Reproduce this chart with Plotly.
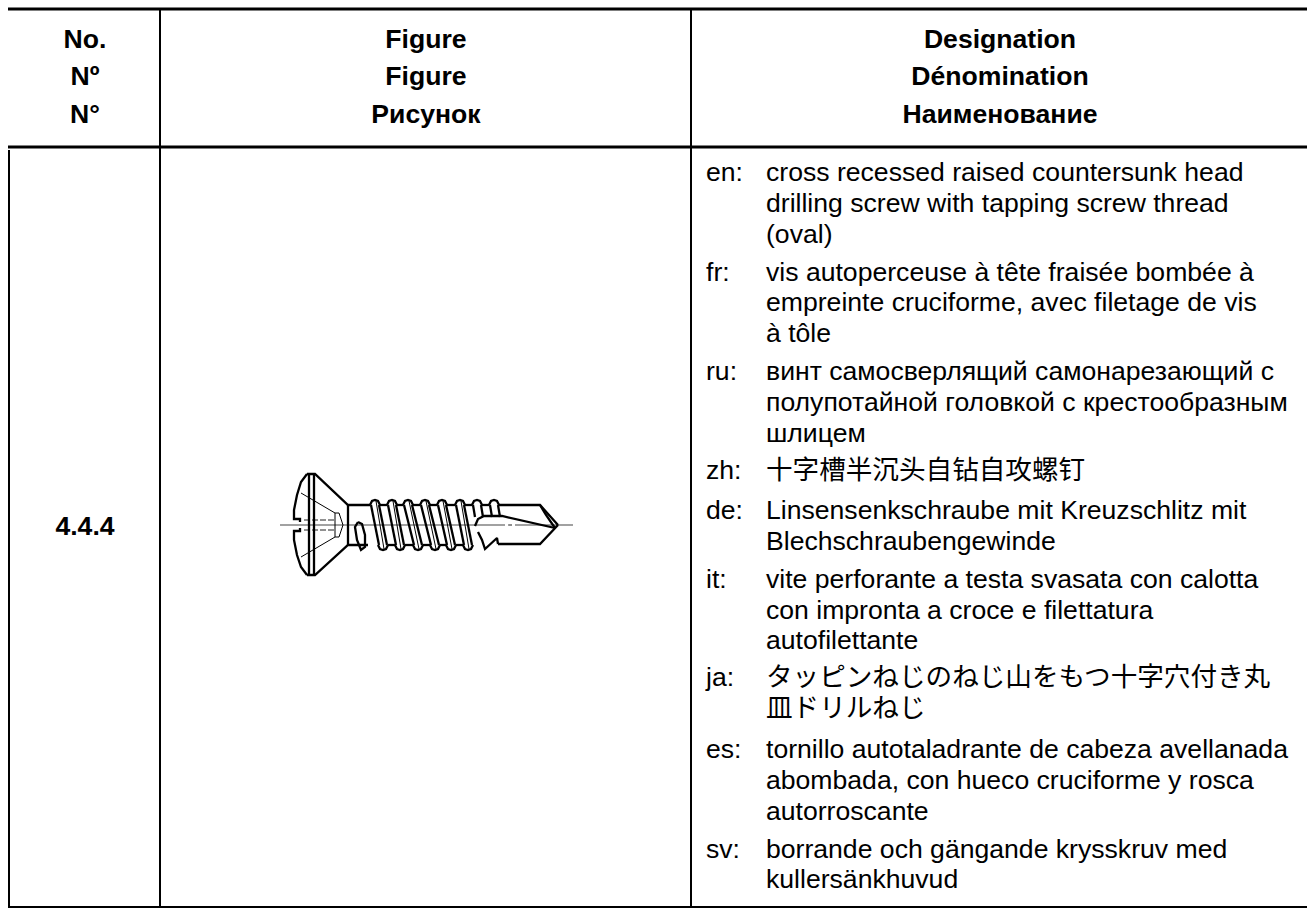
import plotly.graph_objects as go

W, H = 1307, 908
FONT = "Liberation Sans, Arial, Noto Sans CJK SC"
FONT_JA = "Liberation Sans, Arial, Noto Sans CJK JP"
FS = 26.6

# table
rules_x = [[9, 150, 906], [160, 9, 906], [691, 9, 906]]
rules_y = [[9, 8, 1307, 3], [147, 8, 1307, 3], [907, 8, 1307, 2]]

headers = [
    (85, ["No.", "Nº", "N°"]),
    (426, ["Figure", "Figure", "Рисунок"]),
    (1000, ["Designation", "Dénomination", "Наименование"]),
]
header_y = [41, 78, 116]
row_no = "4.4.4"
row_no_xy = (85, 528)

tags = ["en:", "fr:", "ru:", "zh:", "de:", "it:", "ja:", "es:", "sv:"]
blocks = [
    ["cross recessed raised countersunk head", "drilling screw with tapping screw thread", "(oval)"],
    ["vis autoperceuse à tête fraisée bombée à", "empreinte cruciforme, avec filetage de vis", "à tôle"],
    ["винт самосверлящий самонарезающий с", "полупотайной головкой с крестообразным", "шлицем"],
    ["十字槽半沉头自钻自攻螺钉"],
    ["Linsensenkschraube mit Kreuzschlitz mit", "Blechschraubengewinde"],
    ["vite perforante a testa svasata con calotta", "con impronta a croce e filettatura", "autofilettante"],
    ["タッピンねじのねじ山をもつ十字穴付き丸", "皿ドリルねじ"],
    ["tornillo autotaladrante de cabeza avellanada", "abombada, con hueco cruciforme y rosca", "autorroscante"],
    ["borrande och gängande krysskruv med", "kullersänkhuvud"],
]
line_y = [[174, 205, 236], [274, 304, 335], [373, 404, 435], [472], [512, 543], [581, 612, 642], [679, 710], [751, 782, 813], [851, 881]]
tag_x, body_x = 706, 766

# screw outline
head_top = [(307, 474), (301, 482), (297, 495), (294, 510), (294, 519), (300, 519), (300, 522)]
head_bot = [(307, 575), (301, 567), (297, 555), (294, 540), (294, 531), (300, 531), (300, 528)]
head_cap = [(307, 474), (315, 474), (348, 505), (370, 505)]
head_cap_b = [(307, 575), (315, 575), (348, 545), (368, 545)]
head_bars = [[(309, 474), (309, 575)], [(314, 474), (314, 575)], [(348, 505), (348, 545)]]
recess = [(301, 493), (335, 513), (339, 513), (343, 525), (339, 537), (335, 537), (301, 557)]
recess_v = [(335, 513), (335, 537)]
recess_dash = [[(304, 520), (335, 520)], [(304, 530), (335, 530)]]
oval = [(358, 522), (355, 527), (357, 540), (361, 550), (365, 547), (365, 535), (362, 524), (358, 522)]

crest_top = [375, 392, 408, 425, 442, 460, 477, 494]
crest_bot = [383, 400, 418, 435, 451, 468]
short_strip_top = [477, 494]
short_strip_end_y = 517
root_top_y, crest_top_y = 505, 500
root_bot_y, crest_bot_y = 545, 550

shank_top = [(500, 505), (540, 505), (558, 525)]
shank_bot = [(498, 544), (540, 544), (558, 525)]
tip_inner = [(540, 505), (546, 515), (555, 528)]
flute_top = [(475, 526), (478, 519), (484, 516), (502, 516), (555, 528)]
flute_bot = [(478, 532), (482, 540), (485, 549), (491, 543), (497, 538), (498, 544)]
center = [(280, 525), (505, 525)]
center_b = [(508, 525), (512, 525)]
center_c = [(515, 525), (573, 525)]


def xy(paths):
    xs, ys = [], []
    for p in paths:
        for a, b in p:
            xs.append(a)
            ys.append(b)
        xs.append(None)
        ys.append(None)
    return xs, ys


thread_paths, thin_paths = [], []
roots = []
for i, t in enumerate(crest_top):
    thread_paths.append([(t - 5, root_top_y), (t - 3, crest_top_y + 1), (t, crest_top_y), (t + 3, crest_top_y + 1), (t + 5, root_top_y)])
    if i:
        roots.append([(crest_top[i - 1] + 5, root_top_y), (t - 5, root_top_y)])
for i, b in enumerate(crest_bot):
    thread_paths.append([(b - 5, root_bot_y), (b - 3, crest_bot_y - 1), (b, crest_bot_y), (b + 3, crest_bot_y - 1), (b + 5, root_bot_y)])
    t = crest_top[i]
    thread_paths.append([(t - 4, root_top_y), (b - 4, root_bot_y)])
    thread_paths.append([(t + 4, root_top_y), (b + 4, root_bot_y)])
    thin_paths.append([(t + 1, crest_top_y + 1), (b + 1, crest_bot_y - 1)])
    if i:
        roots.append([(crest_bot[i - 1] + 5, root_bot_y), (b - 5, root_bot_y)])
for t in short_strip_top:
    thread_paths.append([(t - 4, root_top_y), (t - 2, short_strip_end_y)])
    thread_paths.append([(t + 4, root_top_y), (t + 6, short_strip_end_y)])

thick = [head_top, head_bot, head_cap, head_cap_b, *head_bars, oval, *thread_paths, *roots,
         shank_top, shank_bot, tip_inner, flute_top, flute_bot,
         [(crest_top[-1] + 5, root_top_y), (500, root_top_y)]]
thin = [recess, recess_v, *thin_paths]

fig = go.Figure()
for (x, y0, y1) in rules_x:
    fig.add_trace(go.Scatter(x=[x, x], y=[y0, y1], mode="lines", line=dict(color="#000", width=2), hoverinfo="skip"))
for (y, x0, x1, w) in rules_y:
    fig.add_trace(go.Scatter(x=[x0, x1], y=[y, y], mode="lines", line=dict(color="#000", width=w), hoverinfo="skip"))

a, b = xy([center, center_b, center_c])
fig.add_trace(go.Scatter(x=a, y=b, mode="lines", line=dict(color="#444", width=1.2), hoverinfo="skip"))
a, b = xy(recess_dash)
fig.add_trace(go.Scatter(x=a, y=b, mode="lines", line=dict(color="#222", width=1, dash="6px,2px"), hoverinfo="skip"))
a, b = xy(thin)
fig.add_trace(go.Scatter(x=a, y=b, mode="lines", line=dict(color="#000", width=1), hoverinfo="skip"))
a, b = xy(thick)
fig.add_trace(go.Scatter(x=a, y=b, mode="lines", line=dict(color="#000", width=2.3), hoverinfo="skip"))

hx, hy, ht = [], [], []
for cx, labels in headers:
    for y, s in zip(header_y, labels):
        hx.append(cx); hy.append(y); ht.append(f"<b>{s}</b>")
hx.append(row_no_xy[0]); hy.append(row_no_xy[1]); ht.append(f"<b>{row_no}</b>")
fig.add_trace(go.Scatter(x=hx, y=hy, text=ht, mode="text", textposition="middle center",
                         textfont=dict(family=FONT, size=FS, color="#000"), hoverinfo="skip"))

fig.add_trace(go.Scatter(x=[tag_x] * len(tags), y=[r[0] for r in line_y], text=tags, mode="text",
                         textposition="middle right", textfont=dict(family=FONT, size=FS, color="#000"), hoverinfo="skip"))
for tag, lines, ys in zip(tags, blocks, line_y):
    fig.add_trace(go.Scatter(x=[body_x] * len(lines), y=ys, text=lines, mode="text", textposition="middle right",
                             textfont=dict(family=FONT_JA if tag == "ja:" else FONT, size=FS, color="#000"), hoverinfo="skip"))

fig.update_layout(width=W, height=H, margin=dict(l=0, r=0, t=0, b=0), showlegend=False,
                  plot_bgcolor="#fff", paper_bgcolor="#fff",
                  xaxis=dict(range=[0, W], visible=False, fixedrange=True),
                  yaxis=dict(range=[H, 0], visible=False, fixedrange=True))
fig.write_html("out.html", config=dict(displayModeBar=False),
               post_script="document.documentElement.style.overflow='hidden';document.body.style.margin='0';window.dispatchEvent(new Event('resize'));")
